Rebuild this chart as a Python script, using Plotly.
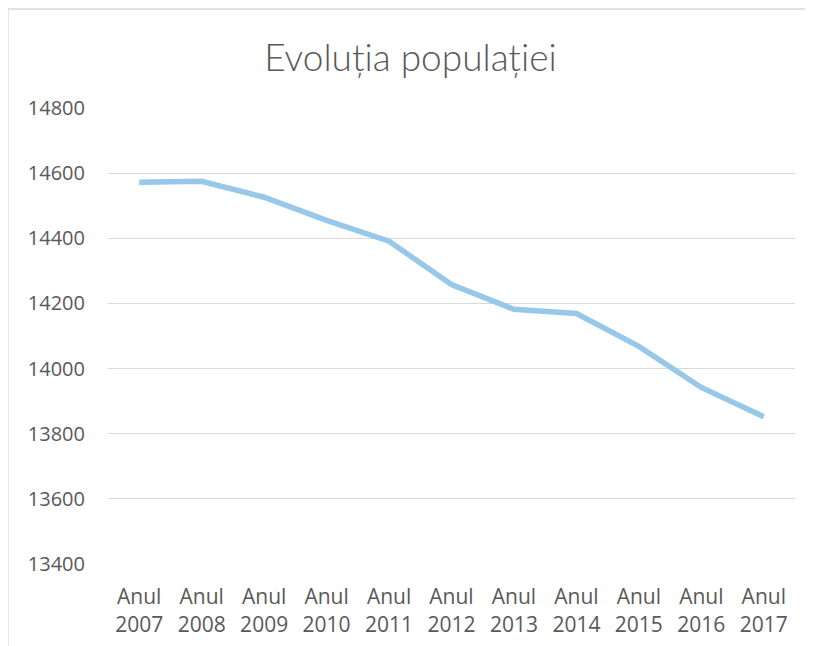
import plotly.graph_objects as go

years = ["2007", "2008", "2009", "2010", "2011", "2012", "2013", "2014", "2015", "2016", "2017"]
categories = ["Anul<br>" + y for y in years]
population = [14572, 14575, 14526, 14455, 14391, 14258, 14182, 14169, 14068, 13942, 13852]
y_ticks = [13400, 13600, 13800, 14000, 14200, 14400, 14600, 14800]

FONT = "Open Sans"
TITLE_FONT = "Lato"
W, H = 805, 638
L, R, T, B = 100, 18, 100, 82
PW, PH = W - L - R, H - T - B

fig = go.Figure()
fig.add_trace(go.Scatter(
    x=categories, y=population, mode="lines",
    line=dict(color="#97C8EA", width=5.5, shape="linear"),
    hoverinfo="x+y",
))

fig.update_layout(
    width=W, height=H,
    paper_bgcolor="white", plot_bgcolor="white",
    margin=dict(l=L, r=R, t=T, b=B),
    showlegend=False,
    title=dict(text="Evoluția populației", x=0.5, xanchor="center",
               y=1 - 50 / H, yanchor="middle", automargin=False,
               font=dict(family=TITLE_FONT, size=37, color="#595959", weight=300)),
    font=dict(family=FONT, color="#595959"),
    xaxis=dict(type="category", showgrid=False, zeroline=False, showline=False,
               automargin=False,
               tickfont=dict(size=21, color="#595959", family=FONT),
               ticks="outside", ticklen=14, tickcolor="rgba(0,0,0,0)",
               range=[-0.5, len(categories) - 0.5]),
    yaxis=dict(range=[13400, 14800], tickvals=y_ticks, ticktext=[str(v) for v in y_ticks],
               automargin=False,
               showgrid=True, gridcolor="#D9D9D9", gridwidth=1.3, zeroline=False, showline=False,
               tickfont=dict(size=20, color="#595959", family=FONT),
               ticks="outside", ticklen=18, tickcolor="rgba(0,0,0,0)"),
    shapes=[dict(type="rect", xref="paper", yref="paper",
                 x0=(0 - L) / PW, x1=(802 - L) / PW,
                 y0=-(B + 40) / PH, y1=(H - 1 - B) / PH,
                 line=dict(color="#D9D9D9", width=1.3), layer="below")],
)

fig.write_html("out.html")
